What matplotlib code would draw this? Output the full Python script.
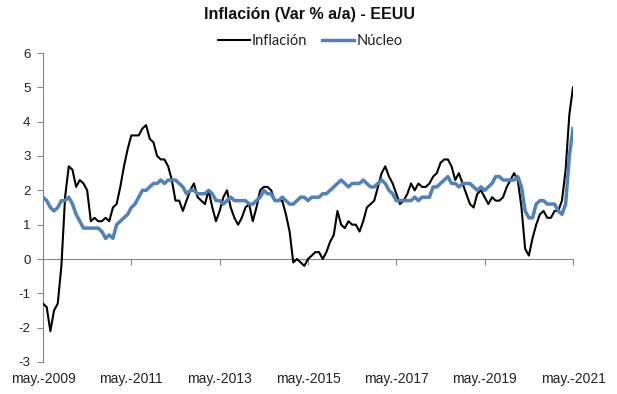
import matplotlib
matplotlib.use("Agg")
import matplotlib.pyplot as plt
import numpy as np

# Monthly data, May 2009 - May 2021
inflacion = [
    -1.3, -1.4, -2.1, -1.5, -1.3, -0.2, 1.8, 2.7,                      # 2009 May-Dec
    2.6, 2.1, 2.3, 2.2, 2.0, 1.1, 1.2, 1.1, 1.1, 1.2, 1.1, 1.5,        # 2010
    1.6, 2.1, 2.7, 3.2, 3.6, 3.6, 3.6, 3.8, 3.9, 3.5, 3.4, 3.0,        # 2011
    2.9, 2.9, 2.7, 2.3, 1.7, 1.7, 1.4, 1.7, 2.0, 2.2, 1.8, 1.7,        # 2012
    1.6, 2.0, 1.5, 1.1, 1.4, 1.8, 2.0, 1.5, 1.2, 1.0, 1.2, 1.5,        # 2013
    1.6, 1.1, 1.5, 2.0, 2.1, 2.1, 2.0, 1.7, 1.7, 1.7, 1.3, 0.8,        # 2014
    -0.1, 0.0, -0.1, -0.2, 0.0, 0.1, 0.2, 0.2, 0.0, 0.2, 0.5, 0.7,     # 2015
    1.4, 1.0, 0.9, 1.1, 1.0, 1.0, 0.8, 1.1, 1.5, 1.6, 1.7, 2.1,        # 2016
    2.5, 2.7, 2.4, 2.2, 1.9, 1.6, 1.7, 1.9, 2.2, 2.0, 2.2, 2.1,        # 2017
    2.1, 2.2, 2.4, 2.5, 2.8, 2.9, 2.9, 2.7, 2.3, 2.5, 2.2, 1.9,        # 2018
    1.6, 1.5, 1.9, 2.0, 1.8, 1.6, 1.8, 1.7, 1.7, 1.8, 2.1, 2.3,        # 2019
    2.5, 2.3, 1.5, 0.3, 0.1, 0.6, 1.0, 1.3, 1.4, 1.2, 1.2, 1.4,        # 2020
    1.4, 1.7, 2.6, 4.2, 5.0,                                           # 2021 Jan-May
]
nucleo = [
    1.8, 1.7, 1.5, 1.4, 1.5, 1.7, 1.7, 1.8,
    1.6, 1.3, 1.1, 0.9, 0.9, 0.9, 0.9, 0.9, 0.8, 0.6, 0.7, 0.6,
    1.0, 1.1, 1.2, 1.3, 1.5, 1.6, 1.8, 2.0, 2.0, 2.1, 2.2, 2.2,
    2.3, 2.2, 2.3, 2.3, 2.3, 2.2, 2.1, 1.9, 2.0, 2.0, 1.9, 1.9,
    1.9, 2.0, 1.9, 1.7, 1.7, 1.6, 1.7, 1.8, 1.7, 1.7, 1.7, 1.7,
    1.6, 1.6, 1.7, 1.8, 2.0, 1.9, 1.9, 1.7, 1.7, 1.8, 1.7, 1.6,
    1.6, 1.7, 1.8, 1.8, 1.7, 1.8, 1.8, 1.8, 1.9, 1.9, 2.0, 2.1,
    2.2, 2.3, 2.2, 2.1, 2.2, 2.2, 2.2, 2.3, 2.2, 2.1, 2.1, 2.2,
    2.3, 2.2, 2.0, 1.9, 1.7, 1.7, 1.7, 1.7, 1.7, 1.8, 1.7, 1.8,
    1.8, 1.8, 2.1, 2.1, 2.2, 2.3, 2.4, 2.2, 2.2, 2.1, 2.2, 2.2,
    2.2, 2.1, 2.0, 2.1, 2.0, 2.1, 2.2, 2.4, 2.4, 2.3, 2.3, 2.3,
    2.3, 2.4, 2.1, 1.4, 1.2, 1.2, 1.6, 1.7, 1.7, 1.6, 1.6, 1.6,
    1.4, 1.3, 1.6, 3.0, 3.8,
]
tick_labels = ["may.-2009", "may.-2011", "may.-2013", "may.-2015",
               "may.-2017", "may.-2019", "may.-2021"]
y_ticks = [-3, -2, -1, 0, 1, 2, 3, 4, 5, 6]

plt.rcParams['font.family'] = ['Liberation Sans', 'DejaVu Sans']

W, H = 617, 394
fig = plt.figure(figsize=(W / 100, H / 100), dpi=100)
ax = fig.add_axes([43 / W, 1 - 362 / H, (573 - 43) / W, (362 - 53) / H])

x = np.arange(len(inflacion))
axis_col = "#868686"
ax.plot(x, inflacion, color="black", lw=1.5, label="Inflación", zorder=3,
        solid_joinstyle="round")
ax.plot(x, nucleo, color="#4F81BD", lw=2.5, label="Núcleo", zorder=4,
        solid_joinstyle="round")

ax.set_xlim(0, len(inflacion) - 1)
ax.set_ylim(-3, 6)
ax.set_yticks(y_ticks)
ax.set_yticklabels([str(v) for v in y_ticks])

for s in ["top", "right"]:
    ax.spines[s].set_visible(False)
ax.spines["left"].set_color(axis_col)
ax.spines["bottom"].set_color(axis_col)
ax.spines["bottom"].set_position(("data", 0))

xt = np.arange(0, len(inflacion), 24)
ax.set_xticks(xt)
ax.set_xticklabels([""] * len(xt))
ax.tick_params(axis="x", direction="out", length=4, color=axis_col)
ax.tick_params(axis="y", direction="out", length=4, color=axis_col,
               labelsize=9.5, pad=5, labelcolor="#222222")

for pos, lab in zip(xt, tick_labels):
    ax.annotate(lab, xy=(pos, -3), xytext=(0, -7.5), textcoords="offset points",
                ha="center", va="top", fontsize=10, color="#222222",
                annotation_clip=False)

fig.text(310 / W, 1 - 14 / H, "Inflación (Var % a/a) - EEUU", ha="center",
         va="center", fontsize=11.5, fontweight="bold", color="#111111")

leg = fig.legend(loc="center", bbox_to_anchor=(310 / W, 1 - 41 / H), ncol=2,
                 frameon=False, prop={"family": ["Lato", "DejaVu Sans"], "size": 10.5},
                 handlelength=2.2, handletextpad=0.15, columnspacing=1.0)
for t in leg.get_texts():
    t.set_color("#222222")
leg.get_lines()[0].set_linewidth(1.5)
leg.get_lines()[1].set_linewidth(2.5)

fig.savefig("out.png", dpi=100, facecolor="white")
